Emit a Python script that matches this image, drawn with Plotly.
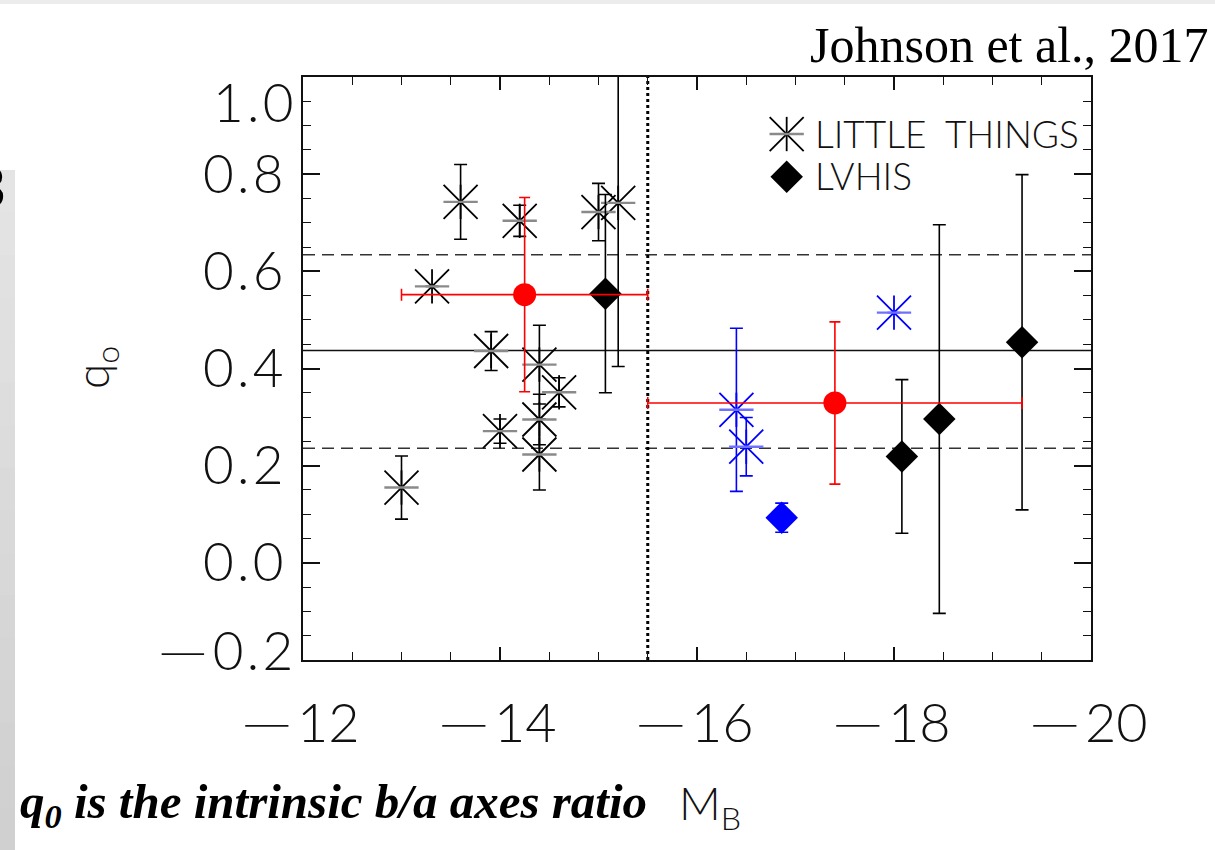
import plotly.graph_objects as go

# ---- data -------------------------------------------------------------
# LITTLE THINGS galaxies (black asterisks)
lt_mb = [-13.00, -13.31, -13.60, -13.91, -14.00, -14.20, -14.40, -14.40, -14.40, -14.60, -15.00, -15.20]
lt_q0 = [0.155, 0.569, 0.743, 0.436, 0.271, 0.704, 0.408, 0.295, 0.223, 0.351, 0.722, 0.741]
lt_err = [0.065, 0.0, 0.077, 0.040, 0.025, 0.032, 0.081, 0.052, 0.073, 0.030, 0.059, 0.337]

# LITTLE THINGS galaxies highlighted in blue
ltb_mb = [-16.40, -16.50, -18.00]
ltb_q0 = [0.315, 0.239, 0.515]
ltb_err = [0.168, 0.060, 0.0]

# LVHIS galaxies (black diamonds)
lv_mb = [-15.07, -18.08, -18.46, -19.30]
lv_q0 = [0.554, 0.219, 0.296, 0.454]
lv_err = [0.204, 0.158, 0.400, 0.345]

# LVHIS galaxy highlighted in blue
lvb_mb = [-16.86]
lvb_q0 = [0.093]
lvb_err = [0.030]

# bin means (red)
mean_mb = [-14.25, -17.40]
mean_q0 = [0.552, 0.329]
mean_mb_err = [1.25, 1.90]
mean_q0_err = [0.200, 0.167]

# reference levels
q_mean = 0.437
q_band = [0.236, 0.634]
mb_split = -15.5

MINUS = "\u2500\u2009\u200a"   # long, thin minus in the plotting-package style
x_ticks = [-12, -14, -16, -18, -20]
x_ticktext = [MINUS + str(abs(v)) for v in x_ticks]
y_ticks = [0.8, 0.6, 0.4, 0.2, 0.0]
y_ticktext = ["0\u200a.\u200a8", "0\u200a.\u200a6", "0\u200a.\u200a4", "0\u200a.\u200a2", "0\u200a.\u200a0"]
y_end_ticks = [1.0, -0.2]
y_end_text = ["1\u200a.\u200a0", MINUS + "0\u200a.\u200a2"]
y_end_shift = [-24, 11]

# ---- styling ------------------------------------------------------------
IDL_FONT = dict(family="Lato, Liberation Sans, sans-serif", weight=300, color="#111")
BLACK = "#000000"
BLUE = "#0000ff"
RED = "#ff0000"

fig = go.Figure()


def add_asterisks(x, y, err, color, arm_color, xa="x", ya="y", show_err=True):
    """Eight-armed asterisk with a centre dot and vertical error bars."""
    eb = dict(type="data", array=err, visible=show_err, color=color, thickness=1.6, width=6.5)
    fig.add_trace(go.Scatter(x=x, y=y, mode="markers", xaxis=xa, yaxis=ya,
                             marker=dict(symbol="circle", size=4, color=color),
                             error_y=eb, showlegend=False, hoverinfo="skip"))
    fig.add_trace(go.Scatter(x=x, y=y, mode="markers", xaxis=xa, yaxis=ya,
                             marker=dict(symbol="x-thin-open", size=34, color=color,
                                         line=dict(width=1.8, color=color)),
                             showlegend=False, hoverinfo="skip"))
    fig.add_trace(go.Scatter(x=x, y=y, mode="markers", xaxis=xa, yaxis=ya,
                             marker=dict(symbol="line-ns-open", size=24.5, color=color,
                                         line=dict(width=1.8, color=color)),
                             showlegend=False, hoverinfo="skip"))
    fig.add_trace(go.Scatter(x=x, y=y, mode="markers", xaxis=xa, yaxis=ya,
                             marker=dict(symbol="line-ew-open", size=24.5, color=arm_color,
                                         line=dict(width=2.4, color=arm_color)),
                             showlegend=False, hoverinfo="skip"))


def add_diamonds(x, y, err, color, xa="x", ya="y", show_err=True):
    fig.add_trace(go.Scatter(x=x, y=y, mode="markers", xaxis=xa, yaxis=ya,
                             marker=dict(symbol="diamond", size=25, color=color,
                                         line=dict(width=0)),
                             error_y=dict(type="data", array=err, visible=show_err,
                                          color=color, thickness=1.6, width=6.5),
                             showlegend=False, hoverinfo="skip"))


add_asterisks(lt_mb, lt_q0, lt_err, BLACK, "#8a8a8a")
add_asterisks(ltb_mb, ltb_q0, ltb_err, BLUE, "#7070ff")
add_diamonds(lv_mb, lv_q0, lv_err, BLACK)
add_diamonds(lvb_mb, lvb_q0, lvb_err, BLUE)

fig.add_trace(go.Scatter(
    x=mean_mb, y=mean_q0, mode="markers",
    marker=dict(symbol="circle", size=23, color=RED, line=dict(width=0)),
    error_x=dict(type="data", array=mean_mb_err, color=RED, thickness=1.6, width=6),
    error_y=dict(type="data", array=mean_q0_err, color=RED, thickness=1.6, width=5.5),
    showlegend=False, hoverinfo="skip"))

# legend key, drawn on a hidden unit-square overlay
add_asterisks([0.6138], [0.9022], [0.0], BLACK, "#8a8a8a", xa="x2", ya="y2", show_err=False)
add_diamonds([0.6138], [0.829], [0.0], BLACK, xa="x2", ya="y2", show_err=False)

# ---- reference lines ---------------------------------------------------------
fig.add_hline(y=q_mean, line=dict(color="#111", width=1.4), layer="below")
for qb in q_band:
    fig.add_hline(y=qb, line=dict(color="#333", width=1.6, dash="12px,7px"), layer="below")
fig.add_vline(x=mb_split, line=dict(color="#000", width=3, dash="3px,3px"), layer="below")

# ---- page decoration -------------------------------------------------------
PW, PH, L, T = 788.0, 583.0, 303.0, 77.0


def px_x(p):
    return (p - L) / PW


def px_y(p):
    return 1 - (p - T) / PH


shapes = []
n_bands = 20
for i in range(n_bands):
    g = int(0xea - (0xea - 0xd0) * i / (n_bands - 1))
    top = 850 * i / n_bands
    bot = min(850.0, 850 * (i + 1) / n_bands + 2)
    shapes.append(dict(type="rect", xref="paper", yref="paper", layer="below",
                       x0=px_x(-2), x1=px_x(15), y0=px_y(bot), y1=px_y(top),
                       line=dict(width=0), fillcolor=f"rgb({g},{g},{g})"))
shapes.append(dict(type="rect", xref="paper", yref="paper", layer="below",
                   x0=px_x(0), x1=px_x(1215), y0=px_y(4), y1=px_y(0),
                   line=dict(width=0), fillcolor="#ececec"))

annotations = []
# end labels of the q axis sit slightly inside the frame
for v, t, s in zip(y_end_ticks, y_end_text, y_end_shift):
    annotations.append(dict(text=t, xref="paper", yref="y", x=0, y=v, xanchor="right",
                            yanchor="middle", xshift=-8, yshift=s, showarrow=False,
                            font=dict(size=53, **IDL_FONT)))

annotations += [
    # axis titles
    dict(text="q<sub>o</sub>", xref="paper", yref="paper", x=px_x(95), y=px_y(368),
         xanchor="center", yanchor="middle", textangle=-90, showarrow=False,
         font=dict(size=46, **IDL_FONT)),
    dict(text="M<sub>B</sub>", xref="paper", yref="paper", x=px_x(677), y=px_y(806),
         xanchor="left", yanchor="middle", showarrow=False,
         font=dict(size=46, **IDL_FONT)),
    # legend text
    dict(text="LITTLE\u2002THINGS", xref="paper", yref="paper", x=px_x(813), y=px_y(133),
         xanchor="left", yanchor="middle", showarrow=False,
         font=dict(size=37, **IDL_FONT)),
    dict(text="LVHIS", xref="paper", yref="paper", x=px_x(813), y=px_y(175),
         xanchor="left", yanchor="middle", showarrow=False,
         font=dict(size=37, **IDL_FONT)),
    # citation and caption
    dict(text="Johnson et al., 2017", xref="paper", yref="paper", x=px_x(1211), y=px_y(45),
         xanchor="right", yanchor="middle", showarrow=False,
         font=dict(size=50, family="Liberation Serif, serif", color="#000")),
    dict(text="<b><i>q<sub>0</sub> is the intrinsic b/a axes ratio</i></b>",
         xref="paper", yref="paper", x=px_x(18), y=px_y(804),
         xanchor="left", yanchor="middle", showarrow=False,
         font=dict(size=49, family="Liberation Serif, serif", color="#000")),
    dict(text="<b>3</b>", xref="paper", yref="paper", x=px_x(7), y=px_y(187),
         xanchor="right", yanchor="middle", showarrow=False,
         font=dict(size=58, family="Liberation Sans, sans-serif", color="#000")),
]

axis_common = dict(showgrid=False, zeroline=False, showline=True, linecolor="#111",
                   linewidth=1.8, mirror="ticks", ticks="inside", tickcolor="#111",
                   tickwidth=1.6)

fig.update_layout(
    width=1215, height=850,
    margin=dict(l=303, r=124, t=77, b=190, pad=0),
    paper_bgcolor="white", plot_bgcolor="white",
    showlegend=False,
    shapes=shapes,
    annotations=annotations,
    xaxis=dict(range=[-12, -20], tickmode="array", tickvals=x_ticks, ticktext=x_ticktext,
               ticklen=13, ticklabelstandoff=15,
               tickfont=dict(size=54, **IDL_FONT),
               minor=dict(ticks="inside", ticklen=8, dtick=0.5, tick0=-12,
                          tickcolor="#111", tickwidth=1.4),
               **axis_common),
    yaxis=dict(range=[-0.2, 1.0], tickmode="array", tickvals=y_ticks, ticktext=y_ticktext,
               ticklen=17, ticklabelstandoff=7,
               tickfont=dict(size=53, **IDL_FONT),
               minor=dict(ticks="inside", ticklen=8, dtick=0.05, tick0=0,
                          tickcolor="#111", tickwidth=1.4),
               **axis_common),
    xaxis2=dict(overlaying="x", range=[0, 1], visible=False, fixedrange=True),
    yaxis2=dict(overlaying="y", range=[0, 1], visible=False, fixedrange=True),
)

fig.write_html("out.html")
